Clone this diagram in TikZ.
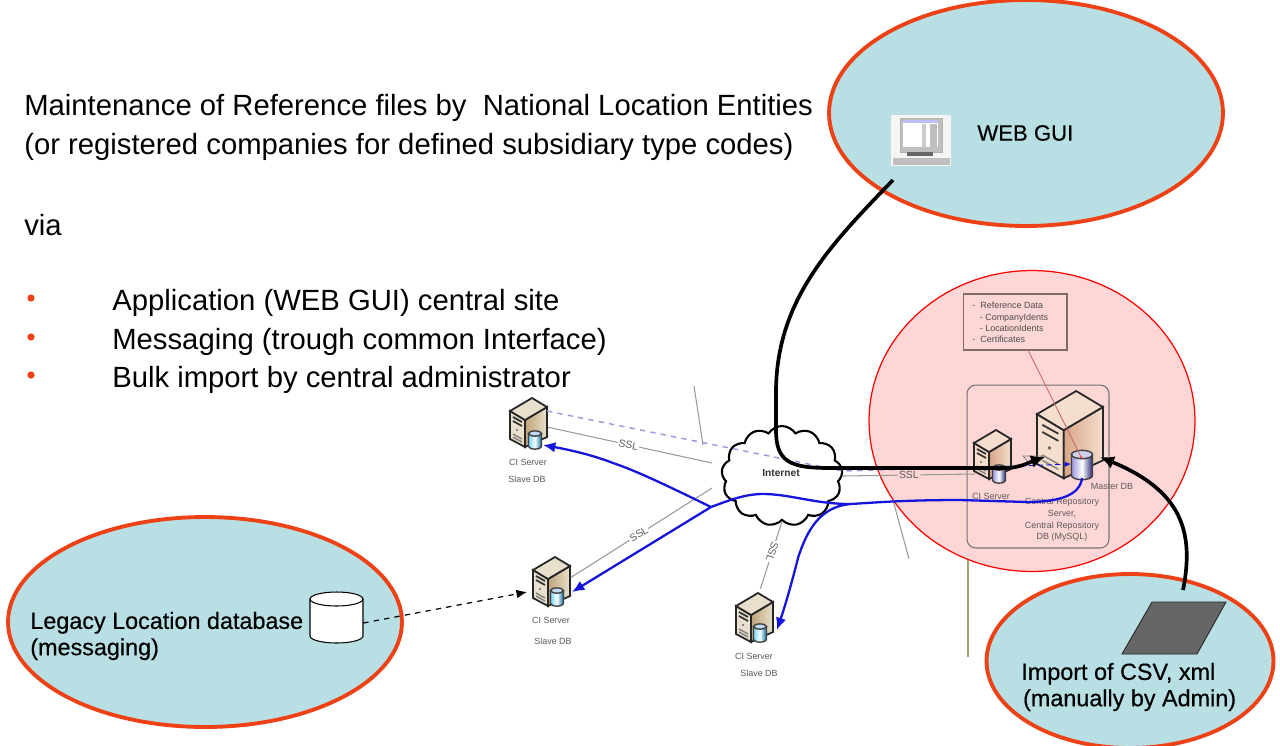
\documentclass[tikz,border=0pt]{standalone}
\usepackage{fontspec}
\setmainfont{Liberation Sans}
\newfontfamily\blobfont[FakeBold=0.5]{Liberation Sans}
\usetikzlibrary{arrows.meta,shapes.symbols,shapes.geometric}

\definecolor{ellfill}{RGB}{184,224,228}
\definecolor{ellline}{RGB}{238,66,22}
\definecolor{netblue}{RGB}{20,20,220}
\definecolor{dashblue}{RGB}{150,150,225}
\definecolor{pinkfill}{RGB}{255,214,214}
\definecolor{graytext}{RGB}{90,90,90}
\definecolor{tanlight}{RGB}{232,224,205}
\definecolor{tandark}{RGB}{190,165,120}
\definecolor{rosylight}{RGB}{245,222,205}
\definecolor{rosydark}{RGB}{215,165,135}

\tikzset{
    blob/.style={ellipse,draw=ellline,fill=ellfill,line width=2.2pt,inner sep=0pt},
    slabel/.style={font=\fontsize{5.1}{6}\selectfont,text=graytext,inner sep=0pt},
    ssl/.style={font=\fontsize{5.9}{6}\selectfont,text=graytext,fill=white,inner sep=0.6pt},
    maintext/.style={font=\fontsize{16.65}{19}\selectfont,anchor=west,inner sep=0pt},
    blobtext/.style={font=\blobfont\fontsize{13.3}{15}\selectfont,anchor=west,inner sep=0pt,align=left},
    wire/.style={draw=gray!80,line width=0.6pt},
    bluearrow/.style={draw=netblue,line width=1.3pt,-{Latex[length=7pt,width=6pt]}},
    blackarrow/.style={draw=black,line width=2.1pt,-{Latex[length=8pt,width=7.5pt]}},
    % small database drum, 1 unit is one pixel of the reference
    pics/drum/.style={code={
        \draw[black!75,line width=0.8pt,left color=#1!55!white,right color=#1!60!black,middle color=white]
            (-10,-10) -- (-10,10) arc (180:0:10 and 4) -- (10,-10) -- cycle;
        \draw[black!75,line width=0.8pt,fill=#1!25!white] (0,-10) ellipse (10 and 4);
    }},
    % server tower, origin at the top left corner of the left face
    pics/tower/.style 2 args={code={
        \fill[black!12,opacity=0.5] (10,30) -- (37,28) -- (41,38) -- (20,46) -- cycle;
        \draw[black!85,line width=1pt,fill=#1] (0,13) -- (15,22) -- (15,49) -- (0,41) -- cycle;
        \draw[black!85,line width=1pt,left color=#2,right color=#1] (15,22) -- (37,9) -- (37,39) -- (15,49) -- cycle;
        \draw[black!85,line width=1pt,fill=#1] (0,13) -- (22,0) -- (37,9) -- (15,22) -- cycle;
        \draw[black!80,line width=1pt] (3,19) -- (12,24) (3,23) -- (12,28);
        \draw[black!50,line width=0.8pt] (3,36) -- (12,41) (3,39) -- (12,44);
        \fill[black!60] (7,32) circle (1.1);
    }}
}

\begin{document}
\begin{tikzpicture}[x=0.02cm,y=-0.02cm]

    % Page frame of the reference
    \useasboundingbox (0,0) rectangle (1280,745);
    \fill[white] (0,0) rectangle (1280,745);

    % Heading text and the bullet list
    \node[maintext] (title1) at (24,108) {Maintenance of Reference files by\ \ National Location Entities};
    \node[maintext] (title2) at (24,147) {(or registered companies for defined subsidiary type codes)};
    \node[maintext] (via) at (24,225) {via};
    \foreach \y/\t/\n in {303/Application (WEB GUI) central site/a,
                          342/Messaging (trough common Interface)/b,
                          380/Bulk import by central administrator/c}{
        \node[maintext] (item\n) at (112,\y) {\t};
        \fill[ellline] (31,\y-5) circle (3.6);
    }

    % The coloured regions
    \node[blob,minimum width=7.88cm,minimum height=4.52cm] (webblob) at (1026,113) {};
    \node[blob,minimum width=7.88cm,minimum height=4.2cm] (legacyblob) at (205,622) {};
    \node[blob,minimum width=5.74cm,minimum height=3.48cm] (importblob) at (1130,661) {};
    \node[ellipse,draw=red,fill=pinkfill,line width=0.7pt,minimum width=6.52cm,minimum height=6.02cm,inner sep=0pt] (repocircle) at (1032,421) {};

    % Loose grey segments
    \coordinate (g1a) at (694,386);
    \coordinate (g1b) at (703,445);
    \coordinate (g2a) at (893,500);
    \coordinate (g2b) at (909,559);
    \coordinate (g3a) at (968,560);
    \coordinate (g3b) at (968,657);
    \draw[wire] (g1a) -- (g1b);
    \draw[wire] (g2a) -- (g2b);
    \draw[draw=black!25!yellow!40!gray,line width=0.7pt] (g3a) -- (g3b);

    % Central repository box
    \node[draw=black!55,rounded corners=5pt,line width=0.6pt,minimum width=2.84cm,minimum height=3.26cm,inner sep=0pt] (repobox) at (1038,466.5) {};
    \node[draw=black!50!pinkfill,line width=0.6pt,minimum width=2.08cm,minimum height=1.12cm,inner sep=0pt] (refbox) at (1015,322) {};
    \node[slabel,anchor=west,align=left,text=black!70] (reftext) at (972,322.5)
        {- \ Reference Data\\[0.4pt]\ \ \ - CompanyIdents\\[0.4pt]\ \ \ - LocationIdents\\[0.4pt]- \ Certificates};

    % Cloud in the middle
    \node[cloud,cloud puffs=13,cloud puff arc=115,aspect=1.25,draw=black,fill=white,line width=1.2pt,minimum width=2.42cm,minimum height=2cm,inner sep=0pt] (internet) at (782,476) {};
    \node[font=\fontsize{5.8}{7}\selectfont\bfseries,text=black!80,inner sep=0pt] (internettext) at (781,473) {Internet};

    % Servers
    \pic at (510,398) {tower={tanlight}{tandark}};
    \pic at (533,557) {tower={tanlight}{tandark}};
    \pic at (736,593) {tower={tanlight}{tandark}};
    \pic at (974,430) {tower={rosylight}{rosydark}};
    \pic[scale=1.78] at (1037,391) {tower={rosylight}{rosydark}};
    \pic[scale=0.65] at (535,440) {drum=cyan!70!blue};
    \pic[scale=0.65] at (557,597) {drum=cyan!70!blue};
    \pic[scale=0.65] at (760,633) {drum=cyan!70!blue};
    \pic[scale=0.65] at (999,474) {drum=blue!50!gray};
    \pic[scale=1.05] at (1082,465) {drum=blue!50!gray};

    % Anchors on the servers
    \node[inner sep=0pt,minimum size=1pt] (slaveA) at (547,427) {};
    \node[inner sep=0pt,minimum size=1pt] (slaveB) at (570,578) {};
    \node[inner sep=0pt,minimum size=1pt] (slaveC) at (760,590) {};
    \coordinate (slaveAin) at (543,445);
    \coordinate (slaveBin) at (572,592);
    \coordinate (slaveCin) at (777,630);
    \coordinate (slaveAdash) at (547,411);
    \coordinate (masterin) at (1045,457);
    \coordinate (masterright) at (1100,457);
    \coordinate (dbbottom) at (1082,478);
    \coordinate (dbin) at (1071,464);
    \coordinate (dbmark) at (1081,457);
    \coordinate (cisrv) at (975,474);
    \coordinate (cloudin) at (1020,466);

    % Thin note line from the list box to the master drum
    \draw[draw=red!40!pinkfill!80!black,line width=0.5pt] (1028,350) -- (dbmark);
    \fill[red!70] (dbmark) circle (1.4);

    % Server captions
    \node[slabel] (capA1) at (528,462) {CI Server};
    \node[slabel] (capA2) at (527,479) {Slave DB};
    \node[slabel] (capB1) at (551,620) {CI Server};
    \node[slabel] (capB2) at (553,641) {Slave DB};
    \node[slabel] (capC1) at (754,656) {CI Server};
    \node[slabel] (capC2) at (759,673) {Slave DB};
    \node[slabel] (capD) at (991,496) {CI Server};
    \node[slabel] (capE) at (1112,486) {Master DB};
    \node[slabel,align=center] (capF) at (1062,520) {Central Repository\\[0.6pt]Server,\\[0.6pt]Central Repository\\[0.6pt]DB (MySQL)};

    % SSL links, grey with a label on the line
    \draw[wire] (slaveA) -- (712,463) node[ssl,pos=0.49,sloped] (sslA) {SSL};
    \draw[wire] (slaveB) -- (712,488) node[ssl,pos=0.48,sloped] (sslB) {SSL};
    \draw[wire] (slaveC) -- (internet.south) node[ssl,pos=0.55,rotate=-108] (sslC) {SSL};
    \draw[wire] (internet.east) -- (cisrv) node[ssl,pos=0.5,fill=pinkfill] (sslD) {SSL};

    % Pale dashed replication line
    \draw[draw=dashblue,line width=0.8pt,dashed] (slaveAdash) -- (843,471) -- (cloudin);
    \draw[draw=netblue,line width=0.5pt,densely dashed,-{Latex[length=3.5pt,width=3pt]}] (cloudin) -- (dbin);
    \draw[black!50,line width=0.4pt] (1023,456) -- (1043,456) -- (1030,464) -- cycle;

    % Blue replication paths
    \draw[draw=netblue,line width=1.3pt] (dbbottom) .. controls (1080,495) and (1060,502) .. (1027,502)
        -- (960,500) .. controls (900,500) and (870,503) .. (850,504)
        .. controls (815,504) and (790,494) .. (763,494) .. controls (745,494) and (730,500) .. (711,507);
    \draw[bluearrow] (711,507) -- (slaveBin);
    \draw[bluearrow] (711,507) .. controls (680,492) and (640,472) .. (613,463) .. controls (590,454) and (565,449) .. (slaveAin);
    \draw[bluearrow] (850,504) .. controls (820,507) and (807,530) .. (798,558) .. controls (790,590) and (783,612) .. (slaveCin);

    % Black access paths
    \coordinate (webstart) at (893,180);
    \coordinate (importstart) at (1183,590);
    \draw[blackarrow] (webstart) .. controls (830,245) and (777,300) .. (776,390)
        -- (776,430) .. controls (776,462) and (790,468) .. (830,468)
        -- (1005,468) .. controls (1020,468) and (1030,462) .. (masterin);
    \draw[blackarrow] (importstart) .. controls (1195,530) and (1180,490) .. (masterright);

    % Legacy database with its dashed link
    \draw[black,fill=white,line width=0.6pt] (310,599) -- (310,636) arc (180:0:26.5 and 7) -- (363,599) arc (0:-180:26.5 and 7) -- cycle;
    \draw[black,line width=0.6pt] (310,599) arc (180:0:26.5 and 7);
    \node[inner sep=0pt,minimum width=1.06cm,minimum height=0.8cm] (legacydb) at (336.5,623) {};
    \coordinate (legacyin) at (527,592);
    \draw[dashed,line width=0.7pt,-{Latex[length=6pt,width=5pt]}] (legacydb.east) -- (legacyin);

    % Sheet for the import
    \draw[black!85,fill=black!60,line width=0.5pt] (1152,602) -- (1226,602) -- (1197,654) -- (1122,654) -- cycle;

    % Small monitor of the web blob
    \fill[black!4] (891,115) rectangle (951,166);
    \draw[black!30,fill=black!25] (900,118) rectangle (942,152);
    \fill[white] (903,123) rectangle (938,147);
    \fill[black!20] (922,124) rectangle (926,147);
    \fill[black!25] (930,124) rectangle (937,147);
    \fill[blue!25] (903,120) rectangle (938,123);
    \fill[black!60] (907,152) rectangle (933,156);
    \fill[black!25] (893,158) rectangle (950,165);

    % Texts in the blobs
    \node[blobtext,font=\blobfont\fontsize{12.6}{15}\selectfont] (webtext) at (977,133) {WEB GUI};
    \node[blobtext] (legacytext) at (30,636) {Legacy Location database\\(messaging)};
    \node[blobtext] (importtext) at (1021,687) {Import of CSV, xml\\\hspace{1pt}(manually by Admin)};

\end{tikzpicture}
\end{document}
